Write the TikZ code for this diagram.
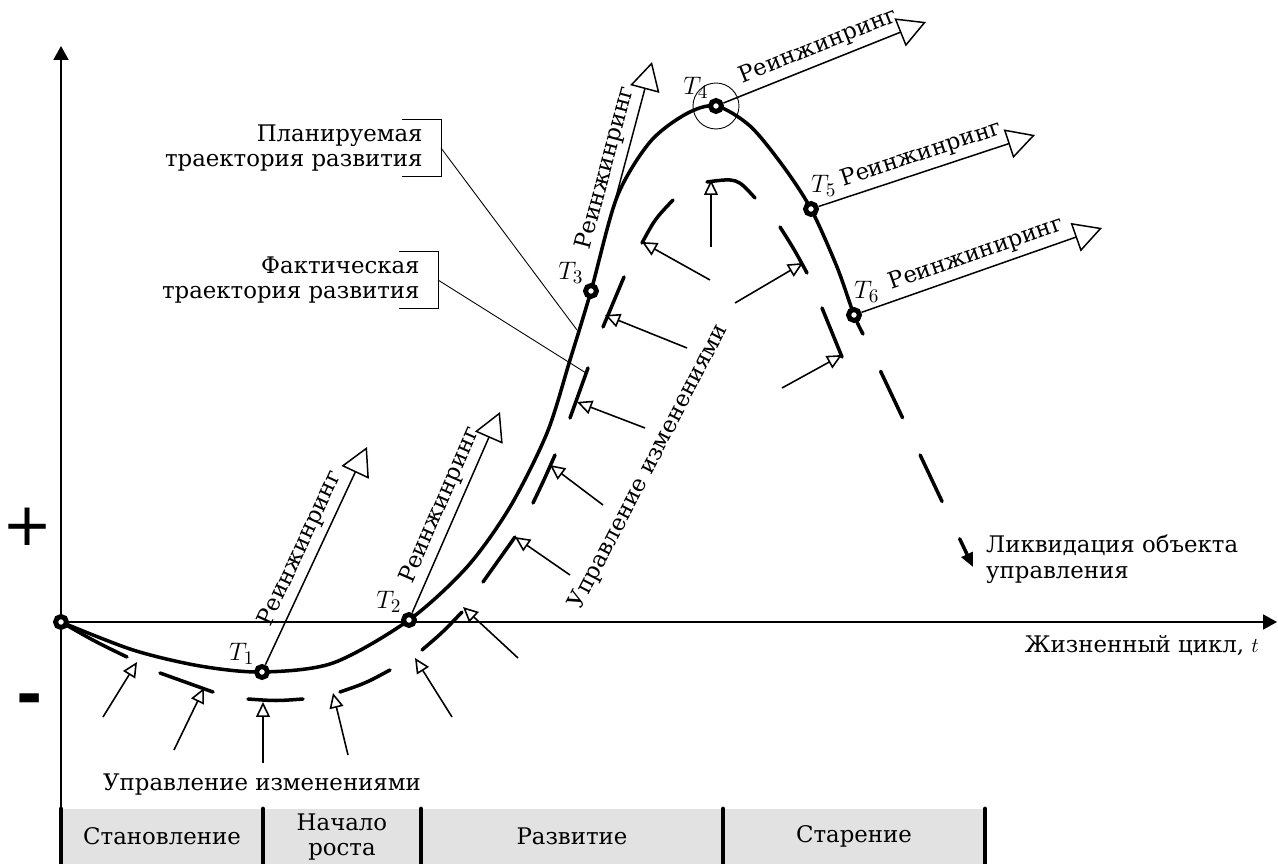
\documentclass[tikz,border=0pt]{standalone}
\usepackage{fontspec}
\setmainfont{DejaVu Serif}
\newfontfamily\signfont{DejaVu Sans}
\usetikzlibrary{arrows.meta, positioning, calc}
\definecolor{bandColor}{RGB}{226,226,226}

\begin{document}
\begin{tikzpicture}[
    x=0.02cm, y=-0.02cm,
    every node/.style={font=\fontsize{13}{14.5}\selectfont},
    curve/.style={line width=2pt, line cap=round},
    axis/.style={line width=1.1pt, -{Triangle[length=0.28cm, width=0.3cm]}},
    point/.style={circle, draw, fill=white, line width=2.8pt, inner sep=0pt, minimum size=0.22cm},
    reeng/.style={line width=0.85pt, -{Triangle[open, length=0.56cm, width=0.6cm]}},
    ctrl/.style={line width=0.9pt, -{Triangle[open, length=0.3cm, width=0.28cm]}},
    leader/.style={line width=0.5pt},
    legend/.style={align=right, anchor=east, inner xsep=0.36cm, inner ysep=0.1cm},
    stagebar/.style={line width=2.8pt, line cap=round},
    tlabel/.style={inner sep=1pt, font=\fontsize{15}{15}\selectfont}
]
\useasboundingbox (0,0) rectangle (1278,864);

% Key points of the life cycle
\coordinate (O) at (61,622);
\coordinate (T1) at (262,672);
\coordinate (T2) at (409,620);
\coordinate (T3) at (591,291);
\coordinate (T4) at (716,106);
\coordinate (T5) at (811,209);
\coordinate (T6) at (854,315);
\coordinate (plEnd) at (863,334);

% Axes
\coordinate (yTop) at (61,46);
\coordinate (yBot) at (61,864);
\coordinate (xEnd) at (1277,622);
\draw[axis] (yBot) -- (yTop);
\draw[axis] (O) -- (xEnd);
\node[font=\signfont\fontsize{34}{34}\selectfont] (plus) at (28,527) {+};
\node[font=\signfont\bfseries\fontsize{36}{36}\selectfont] (minus) at (30,705) {-};
\node[anchor=east] (xlabel) at (1265,646) {Жизненный цикл, $t$};

% Planned trajectory
\draw[curve] plot[smooth, tension=0.5] coordinates {(O) (133,650) (200,666) (T1) (333,663) (T2) (467,567) (510,507) (547,433) (570,360) (T3) (617,197) (650,142) (686,114) (T4) (750,126) (783,166) (T5) (837,267) (T6) (plEnd)};

% Liquidation
\node[align=left, anchor=west] (liq) at (980,559) {Ликвидация объекта\\управления};
\coordinate (liqTip) at (973,567);
\draw[curve, dash pattern={on 29.2pt off 23.5pt}, dash phase=29.2pt, -{Triangle[length=0.28cm, width=0.24cm]}] (plEnd) -- (liqTip);

% Actual trajectory (dashes)
\foreach \a/\c/\b in {{61,622}/{94,641}/{127,657}, {160,673}/{186,683}/{213,692},
    {248,699}/{276,701}/{303,699}, {340,692}/{366,683}/{390,670},
    {422,650}/{443,632}/{462,612}, {483,582}/{499,560}/{515,537},
    {533,503}/{544,480}/{555,455}, {570,418}/{579,393}/{588,368},
    {603,327}/{613,302}/{624,277}, {642,243}/{655,219}/{673,200},
    {707,182}/{737,178}/{755,198}, {780,227}/{794,249}/{807,273},
    {822,308}/{832,332}/{842,357}}
    \draw[curve] (\a) .. controls (\c) .. (\b);

% Change management arrows
\foreach \a/\b [count=\i] in {{103,717}/{137,662}, {174,750}/{204,688}, {263,763}/{263,702},
    {348,755}/{333,693}, {452,717}/{415,658}, {518,658}/{463,607}, {570,575}/{515,537},
    {603,505}/{550,465}, {645,428}/{577,402}, {687,348}/{605,315}, {710,280}/{642,242},
    {711,247}/{711,180}, {735,303}/{803,263}, {782,388}/{842,355}} {
    \coordinate (cs\i) at (\a);
    \coordinate (ce\i) at (\b);
    \draw[ctrl] (cs\i) -- (ce\i);
}
\node (ctrlBottom) at (262,785) {Управление изменениями};
\node[rotate=62.5] (ctrlSide) at (649,467) {Управление изменениями};

% Points
\node[point] (o) at (O) {};
\node[point, label={[tlabel]above left:$T_1$}] (t1) at (T1) {};
\node[point, label={[tlabel]above left:$T_2$}] (t2) at (T2) {};
\node[point, label={[tlabel]above left:$T_3$}] (t3) at (T3) {};
\node[point, label={[tlabel]above left:$T_4$}] (t4) at (T4) {};
\node[point, label={[tlabel, xshift=-0.15cm, yshift=0.1cm]above right:$T_5$}] (t5) at (T5) {};
\node[point, label={[tlabel, xshift=-0.15cm, yshift=0.1cm]above right:$T_6$}] (t6) at (T6) {};
\node[circle, draw, line width=0.5pt, minimum size=0.92cm] (t4ring) at (T4) {};

% Reengineering
\foreach \i/\tip in {1/{367,447}, 2/{500,412}, 3/{652,62}, 4/{926,22}, 5/{1035,135}} {
    \coordinate (r\i) at (\tip);
    \draw[reeng] (t\i) -- node[sloped, above] {Реинжинринг} (r\i);
}
\coordinate (r6) at (1102,228);
\draw[reeng] (t6) -- node[sloped, above] {Реинжиниринг} (r6);

% Legend
\coordinate (planHit) at (577,330);
\coordinate (factHit) at (586,373);
\node[legend] (plan) at (441,148) {Планируемая\\траектория развития};
\draw[leader] ($(plan.north east)+(-39,0)$) -- (plan.north east) -- (plan.south east) -- ($(plan.south east)+(-39,0)$);
\draw[leader] (plan.east) -- (planHit);
\node[legend] (fact) at (438,280) {Фактическая\\траектория развития};
\draw[leader] ($(fact.north east)+(-39,0)$) -- (fact.north east) -- (fact.south east) -- ($(fact.south east)+(-39,0)$);
\draw[leader] (fact.east) -- (factHit);

% Stages
\fill[bandColor] (61,809) rectangle (985,864);
\foreach \x in {61,263,421,723,985}
    \draw[stagebar] (\x,809) -- (\x,872);
\node (st1) at (162,836) {Становление};
\node[align=center, font=\fontsize{13}{14.5}\selectfont] (st2) at (342,837) {Начало\\роста};
\node (st3) at (572,836) {Развитие};
\node (st4) at (854,836) {Старение};

\end{tikzpicture}
\end{document}
